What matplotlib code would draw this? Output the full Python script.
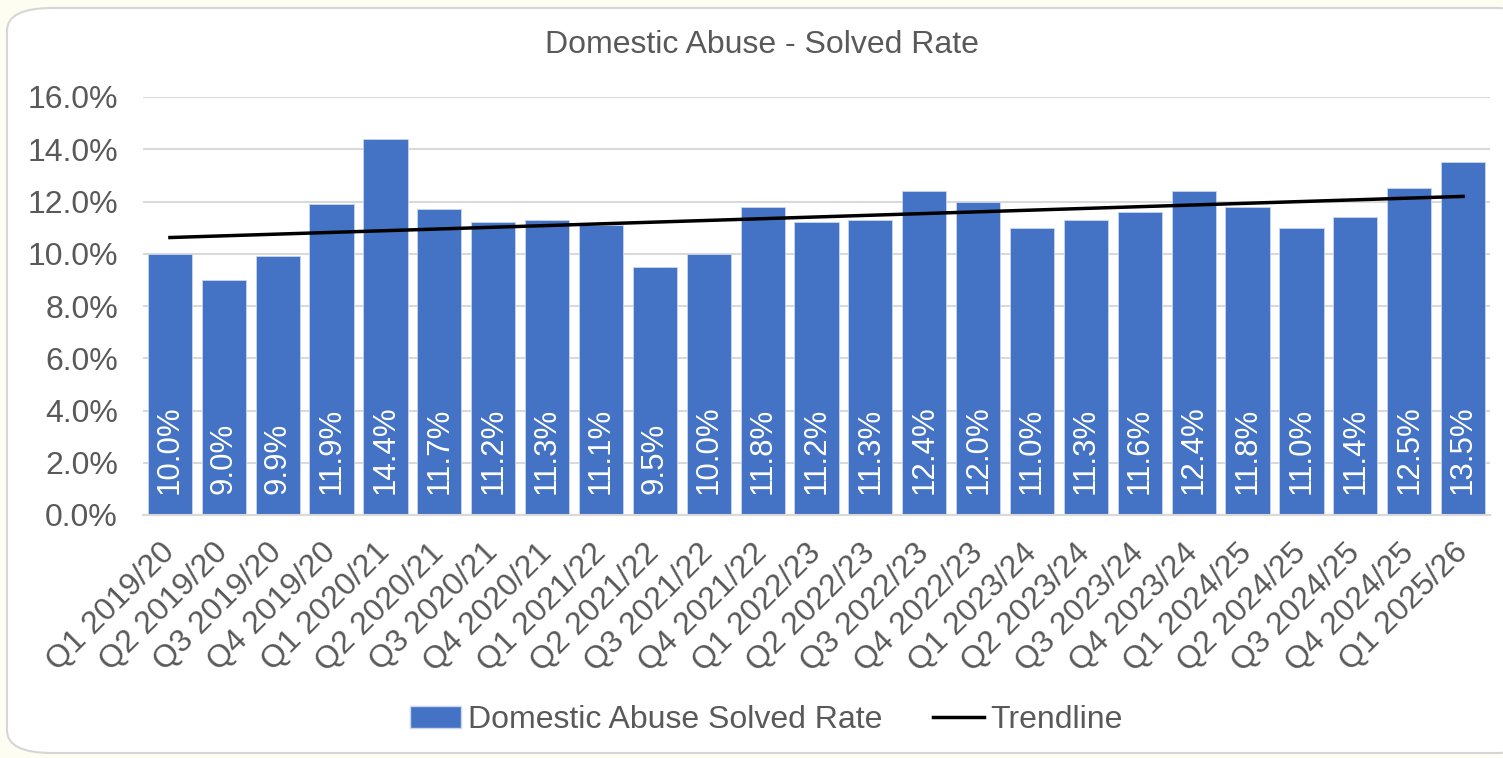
import matplotlib.pyplot as plt
import numpy as np
from matplotlib.patches import FancyBboxPatch, Patch
from matplotlib.lines import Line2D
from matplotlib.ticker import PercentFormatter

plt.rcParams['font.family'] = ['Liberation Sans', 'DejaVu Sans']

quarters = ['Q1 2019/20', 'Q2 2019/20', 'Q3 2019/20', 'Q4 2019/20',
            'Q1 2020/21', 'Q2 2020/21', 'Q3 2020/21', 'Q4 2020/21',
            'Q1 2021/22', 'Q2 2021/22', 'Q3 2021/22', 'Q4 2021/22',
            'Q1 2022/23', 'Q2 2022/23', 'Q3 2022/23', 'Q4 2022/23',
            'Q1 2023/24', 'Q2 2023/24', 'Q3 2023/24', 'Q4 2023/24',
            'Q1 2024/25', 'Q2 2024/25', 'Q3 2024/25', 'Q4 2024/25',
            'Q1 2025/26']
solved_rate = [10.0, 9.0, 9.9, 11.9, 14.4, 11.7, 11.2, 11.3, 11.1, 9.5,
               10.0, 11.8, 11.2, 11.3, 12.4, 12.0, 11.0, 11.3, 11.6, 12.4,
               11.8, 11.0, 11.4, 12.5, 13.5]

bar_col = '#4472C4'
txt_col = '#595959'
grid_col = '#D9D9D9'

fig = plt.figure(figsize=(15.03, 7.58), dpi=100)
fig.patch.set_facecolor('#FDFDF2')

# white card behind chart
card = FancyBboxPatch((7 / 1503, 5 / 758), 1.02, 750 / 758 - 5 / 758,
                      boxstyle='round,pad=0,rounding_size=0.03',
                      transform=fig.transFigure, facecolor='white',
                      edgecolor='#D6D6D6', linewidth=1.5, zorder=-10)
fig.patches.append(card)

ax = fig.add_axes([143 / 1503, 1 - 515 / 758, (1490 - 143) / 1503, (515 - 97) / 758])
ax.set_facecolor('none')

x = np.arange(len(quarters))
vals = np.array(solved_rate)
ax.bar(x, vals, width=0.82, color=bar_col, edgecolor='#C9D6EE', linewidth=0.6, zorder=2)

# linear trendline
k, b = np.polyfit(x, vals, 1)
ax.plot([x[0], x[-1]], [b, k * x[-1] + b], color='black', linewidth=2.5, zorder=3)

for xi, v in zip(x, vals):
    ax.annotate(f'{v:.1f}%', (xi, 0), xytext=(0, 15), textcoords='offset points',
                rotation=90, ha='center', va='bottom', color='white', fontsize=22.5, zorder=4)

ax.set_xlim(-0.5, len(quarters) - 0.5)
ax.set_ylim(0, 16)
ax.set_yticks(np.arange(0, 16.1, 2))
ax.yaxis.set_major_formatter(PercentFormatter(decimals=1))
ax.grid(axis='y', color=grid_col, linewidth=1.5, zorder=0)
ax.set_axisbelow(True)
for s in ['top', 'right', 'left']:
    ax.spines[s].set_visible(False)
ax.spines['bottom'].set_color(grid_col)
ax.spines['bottom'].set_linewidth(1.5)
ax.tick_params(axis='both', length=0, colors=txt_col, labelsize=23)
ax.tick_params(axis='y', pad=18)
ax.set_xticks(x)
ax.set_xticklabels(quarters, rotation=45, ha='right', va='center', rotation_mode='anchor')
ax.tick_params(axis='x', pad=24)

fig.text(0.507, 0.94, 'Domestic Abuse - Solved Rate', ha='center', va='center',
         fontsize=23, color=txt_col)

handles = [Patch(facecolor=bar_col, edgecolor='#C9D6EE'),
           Line2D([0], [0], color='black', linewidth=2.5)]
fig.legend(handles, ['Domestic Abuse Solved Rate', 'Trendline'], loc='center',
           bbox_to_anchor=(0.51, 0.05), ncol=2, frameon=False, fontsize=23,
           labelcolor=txt_col, handlelength=1.6, handletextpad=0.2, columnspacing=1.6)

fig.savefig('out.png', dpi=100, facecolor=fig.get_facecolor())
